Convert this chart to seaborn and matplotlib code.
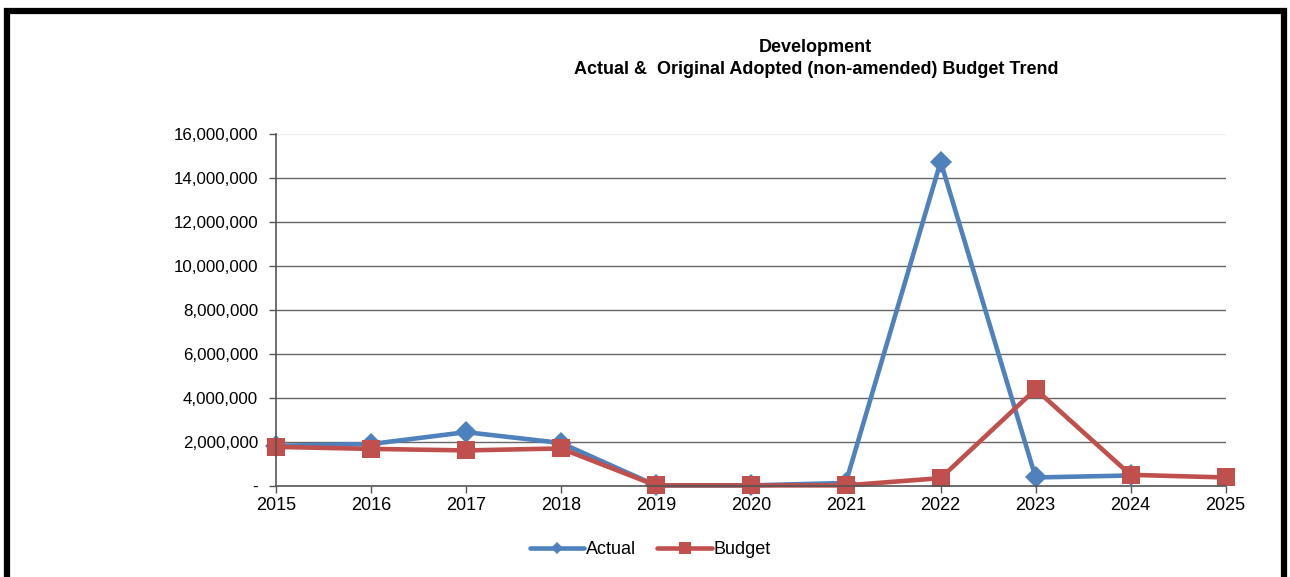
import numpy as np
import pandas as pd
import matplotlib
matplotlib.use("Agg")
import matplotlib.pyplot as plt
import seaborn as sns
from matplotlib.patches import Rectangle
from matplotlib.lines import Line2D
from matplotlib.ticker import FuncFormatter

years = [2015, 2016, 2017, 2018, 2019, 2020, 2021, 2022, 2023, 2024, 2025]
actual = [1820000, 1900000, 2440000, 1950000, 20000, 20000, 130000, 14740000, 380000, 470000, np.nan]
budget = [1770000, 1680000, 1610000, 1700000, 20000, 20000, 20000, 350000, 4390000, 500000, 380000]
series_names = ["Actual", "Budget"]
colors = {"Actual": "#4F81BD", "Budget": "#C0504D"}
markers = {"Actual": "D", "Budget": "s"}
title_lines = ["Development", "Actual &  Original Adopted (non-amended) Budget Trend"]

df = pd.concat([
    pd.DataFrame({"Year": years, "Value": actual, "Series": "Actual"}),
    pd.DataFrame({"Year": years, "Value": budget, "Series": "Budget"}),
], ignore_index=True)

sns.set_theme(style="white")
plt.rcParams["font.family"] = ["Liberation Sans", "DejaVu Sans"]
plt.rcParams["text.color"] = "black"
plt.rcParams["axes.labelcolor"] = "black"
plt.rcParams["xtick.color"] = "black"
plt.rcParams["ytick.color"] = "black"

fig = plt.figure(figsize=(12.9, 5.77), dpi=100)
ax = fig.add_axes([0.214, 0.158, 0.736, 0.610])

sns.lineplot(data=df, x="Year", y="Value", hue="Series", style="Series",
             hue_order=series_names, style_order=series_names,
             palette=colors, markers=markers, dashes=False,
             linewidth=3.3, markersize=11, markeredgewidth=0,
             ax=ax, legend=False)
for ln in ax.lines:
    ln.set_clip_on(False)
    if ln.get_marker() == "s":
        ln.set_markersize(12.5)

ax.set_xlim(2015, 2025)
ax.set_ylim(0, 16000000)
ax.set_xticks(years)
ax.set_xticklabels([str(y) for y in years])
ax.set_yticks(np.arange(0, 16000001, 2000000))
ax.yaxis.set_major_formatter(FuncFormatter(lambda v, p: "-" if v == 0 else f"{int(v):,}"))
ax.set_xlabel("")
ax.set_ylabel("")

ax.grid(False)
for v in np.arange(2000000, 16000001, 2000000):
    ax.axhline(v, color="#eeeeee" if v == 16000000 else "#666666", lw=1, zorder=0)

for s in ["top", "right"]:
    ax.spines[s].set_visible(False)
for s in ["left", "bottom"]:
    ax.spines[s].set_color("#555555")
    ax.spines[s].set_linewidth(1.2)
ax.tick_params(axis="both", which="major", length=5, width=1, color="#555555",
               labelcolor="black", direction="out")
ax.tick_params(axis="y", pad=8, labelsize=12.2, left=True)
ax.tick_params(axis="x", pad=3, labelsize=13, bottom=True)

fig.text(0.632, 1 - 48 / 577, title_lines[0], ha="center", va="center",
         fontsize=13, fontweight="bold", color="black")
fig.text(0.633, 1 - 70 / 577, title_lines[1], ha="center", va="center",
         fontsize=13, fontweight="bold", color="black")

handles = [Line2D([], [], color=colors[n], marker=markers[n], lw=3.3,
                  markersize=6 if n == "Actual" else 8, markeredgewidth=0)
           for n in series_names]
fig.legend(handles, series_names, loc="center", bbox_to_anchor=(0.504, 1 - 550 / 577),
           ncol=2, frameon=False, fontsize=13, handlelength=3, handletextpad=0.1,
           columnspacing=1.2, labelcolor="black")

fig.patches.append(Rectangle((0.0058, -0.1), 0.9892, 1.0818, transform=fig.transFigure,
                             fill=False, edgecolor="black", linewidth=4.5))

fig.savefig("out.png", dpi=100)
